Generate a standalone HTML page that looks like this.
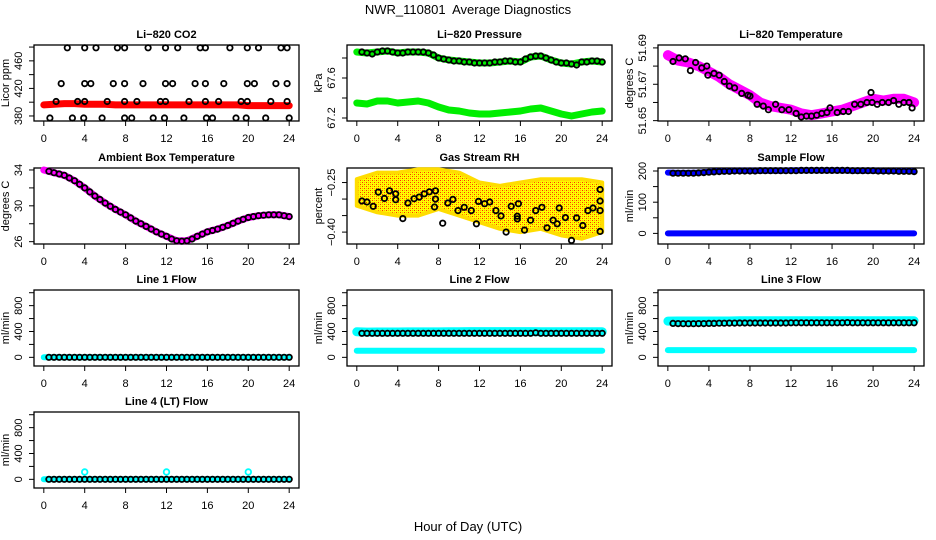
<!DOCTYPE html>
<html><head><meta charset="utf-8">
<style>
html,body{margin:0;padding:0;background:#fff;}
svg{display:block;font-family:"Liberation Sans",Arial,sans-serif;}
</style></head>
<body>
<svg id="chart" width="936" height="540" viewBox="0 0 936 540" xmlns="http://www.w3.org/2000/svg">
<defs>
<pattern id="rhpat" width="4" height="4" patternUnits="userSpaceOnUse">
<rect width="4" height="4" fill="#ffff00"/>
<rect x="0" y="0" width="1" height="1" fill="#ff3000"/>
<rect x="2" y="2" width="1" height="1" fill="#ff3000"/>
<rect x="2" y="0" width="1" height="1" fill="#ffb000"/>
<rect x="0" y="2" width="1" height="1" fill="#ffb000"/>
</pattern>
</defs>
<text x="468" y="14" font-size="13" text-anchor="middle">NWR_110801&#160; Average Diagnostics</text>
<text x="468" y="531" font-size="13" text-anchor="middle">Hour of Day (UTC)</text>
</svg>
<script>
// ---------- data ----------
const hours25 = [0,1,2,3,4,5,6,7,8,9,10,11,12,13,14,15,16,17,18,19,20,21,22,23,24];
const hours48 = [0.5,1,1.5,2,2.5,3,3.5,4,4.5,5,5.5,6,6.5,7,7.5,8,8.5,9,9.5,10,10.5,11,11.5,12,12.5,13,13.5,14,14.5,15,15.5,16,16.5,17,17.5,18,18.5,19,19.5,20,20.5,21,21.5,22,22.5,23,23.5,24];
const xTicks = [0,4,8,12,16,20,24];

// CO2
const co2Band = [396,397,398,398,397,397,397,396,396,396,396,396,396,396,396,396,396,396,396,396,395,395,395,395,395];
const co2CircHours = [2.3,4.0,5.1,7.2,7.9,10.2,11.9,13.1,15.3,15.8,18.2,19.9,21.0,23.2,23.8,
 1.7,4.0,4.6,6.8,7.9,9.7,11.9,12.6,14.8,15.8,17.6,19.9,20.6,22.7,23.8,
 1.2,3.3,4.0,6.2,7.9,9.1,11.4,11.9,14.2,15.8,17.1,19.3,19.9,22.2,23.8,
 0.6,2.8,3.9,5.7,7.9,8.6,10.7,11.8,13.7,15.9,16.5,18.8,19.8,21.7,24.0];
const co2CircVals = [479,479,479,479,479,479,479,479,479,479,479,479,479,479,479,
 427,427,427,427,427,427,427,427,427,427,427,427,427,427,427,
 401,401,401,401,401,401,401,401,401,401,401,401,401,401,401,
 377,377,377,377,377,377,377,377,377,377,377,377,377,377,377];

// Pressure
const presUpper = [67.86,67.85,67.86,67.87,67.85,67.86,67.86,67.85,67.80,67.78,67.77,67.76,67.75,67.75,67.76,67.77,67.76,67.81,67.82,67.78,67.75,67.74,67.76,67.77,67.76];
const presLower = [67.35,67.34,67.37,67.37,67.35,67.36,67.37,67.35,67.31,67.28,67.27,67.25,67.24,67.24,67.25,67.26,67.27,67.29,67.30,67.27,67.24,67.22,67.24,67.26,67.27];
const presCirc = [67.86,67.85,67.84,67.86,67.87,67.87,67.86,67.85,67.85,67.86,67.86,67.86,67.86,67.85,67.83,67.80,67.79,67.78,67.77,67.77,67.76,67.76,67.75,67.75,67.75,67.75,67.76,67.76,67.77,67.77,67.76,67.76,67.79,67.81,67.82,67.82,67.80,67.78,67.76,67.75,67.75,67.74,67.73,67.76,67.76,67.77,67.77,67.76];

// Li-820 temperature
const tempBand = [51.686,51.683,51.682,51.680,51.677,51.674,51.670,51.667,51.664,51.660,51.658,51.657,51.656,51.654,51.653,51.654,51.655,51.656,51.658,51.660,51.662,51.661,51.662,51.662,51.660];
const tempCircHours = [0.5,1.1,1.7,2.2,2.7,3.3,3.8,3.9,4.5,5.0,5.5,6.0,6.5,7.2,7.8,8.0,8.7,9.3,9.8,10.5,11.1,11.8,12.5,13.0,13.5,14.0,14.5,15.0,15.5,15.8,16.5,17.1,17.6,18.2,18.8,19.4,19.8,19.9,20.4,20.9,21.5,22.0,22.5,23.0,23.5,23.8];
const tempCircVals = [51.6825,51.6845,51.684,51.6775,51.682,51.679,51.680,51.675,51.676,51.675,51.6715,51.669,51.668,51.665,51.664,51.6635,51.659,51.658,51.656,51.659,51.656,51.656,51.654,51.652,51.6525,51.6525,51.653,51.654,51.6545,51.657,51.6545,51.655,51.655,51.659,51.659,51.660,51.6655,51.660,51.659,51.660,51.660,51.661,51.659,51.660,51.660,51.657];

// Ambient box temperature
const ambBand = [34.0,33.7,33.4,32.8,32.0,31.1,30.3,29.6,29.0,28.3,27.7,27.1,26.6,26.1,26.1,26.6,27.1,27.4,27.8,28.3,28.7,28.9,29.0,29.0,28.8];
const ambCirc = [33.85,33.7,33.55,33.4,33.1,32.8,32.4,32.0,31.55,31.1,30.7,30.3,29.95,29.6,29.3,29.0,28.65,28.3,28.0,27.7,27.4,27.1,26.85,26.6,26.3,26.1,26.05,26.1,26.3,26.6,26.85,27.1,27.25,27.4,27.6,27.8,28.05,28.3,28.5,28.7,28.8,28.9,28.95,29.0,29.0,29.0,28.9,28.8];

// Gas stream RH
const rhBandHours = [0,2,4,6,8,10,12,14,16,18,20,22,24];
const rhUpper = [-0.24,-0.22,-0.22,-0.21,-0.21,-0.22,-0.25,-0.26,-0.25,-0.24,-0.24,-0.24,-0.25];
const rhLower = [-0.32,-0.34,-0.35,-0.35,-0.33,-0.35,-0.37,-0.39,-0.40,-0.39,-0.41,-0.42,-0.40];
const rhCircHours = [0.5,1.0,1.6,2.1,2.7,3.2,3.8,3.8,4.5,5.0,5.6,6.1,6.6,7.1,7.7,7.7,7.6,8.4,8.9,9.4,9.9,10.5,11.2,11.7,11.9,12.5,13.0,13.6,14.1,14.6,15.1,15.7,15.8,15.7,16.4,17.0,17.5,18.1,18.6,19.2,19.6,19.8,20.4,21.0,21.5,22.1,22.6,23.1,23.8,23.8,23.8,23.8];
const rhCircVals = [-0.306,-0.309,-0.322,-0.279,-0.298,-0.275,-0.284,-0.302,-0.359,-0.312,-0.299,-0.294,-0.284,-0.278,-0.275,-0.300,-0.324,-0.373,-0.312,-0.301,-0.335,-0.325,-0.335,-0.375,-0.307,-0.314,-0.309,-0.335,-0.351,-0.400,-0.322,-0.352,-0.314,-0.360,-0.394,-0.364,-0.335,-0.325,-0.387,-0.364,-0.375,-0.327,-0.356,-0.425,-0.357,-0.380,-0.335,-0.327,-0.335,-0.306,-0.271,-0.398];

// Sample flow
const sfUpper = [195,194,194,195,197,199,200,201,201,201,201,201,202,202,202,202,202,202,201,201,201,200,200,200,199];
const sfLower = [0,0,0,0,0,0,0,0,0,0,0,0,0,0,0,0,0,0,0,0,0,0,0,0,0];
const sfCirc = [193,193,193,193,193,194,195,196,197,198,199,199,200,200,200,200,200,201,201,201,201,201,201,201,201,202,202,202,202,202,202,202,202,202,202,201,201,201,201,201,200,200,200,200,199,199,199,198];

// Line flows
const l1Cyan = [0,0,0,0,0,0,0,0,0,0,0,0,0,0,0,0,0,0,0,0,0,0,0,0,0];
const l1Circ = [0,0,0,0,0,0,0,0,0,0,0,0,0,0,0,0,0,0,0,0,0,0,0,0,0,0,0,0,0,0,0,0,0,0,0,0,0,0,0,0,0,0,0,0,0,0,0,0];
const l2CyanUpper = [395,390,392,392,392,394,394,394,394,396,396,398,398,398,398,398,398,398,396,396,396,396,396,396,396];
const l2CyanLower = [102,102,102,102,102,102,102,102,102,102,102,102,102,102,102,102,102,102,102,102,102,102,102,102,102];
const l2Circ = [372,372,372,372,372,372,372,372,372,372,372,372,372,372,372,372,372,372,372,372,372,372,372,372,372,372,372,372,372,372,372,372,372,372,380,372,372,372,372,372,372,372,372,372,372,372,372,372];
const l3CyanUpper = [560,562,562,562,562,562,562,565,565,565,565,565,565,565,565,565,565,565,565,565,565,565,565,565,565];
const l3CyanLower = [112,112,112,112,112,112,112,112,112,112,112,112,112,112,112,112,112,112,112,112,112,112,112,112,112];
const l3Circ = [525,522,520,520,520,522,522,525,525,528,528,530,530,532,532,532,532,532,532,532,532,532,532,535,535,535,535,535,535,535,535,535,535,535,538,535,535,535,535,535,535,535,535,535,535,535,535,535];
const l4Cyan = [0,0,0,0,0,0,0,0,0,0,0,0,0,0,0,0,0,0,0,0,0,0,0,0,0];
const l4SpikeHours = [4,12,20];
const l4SpikeVals = [113,113,113];
const l4Circ = [0,0,0,0,0,0,0,0,0,0,0,0,0,0,0,0,0,0,0,0,0,0,0,0,0,0,0,0,0,0,0,0,0,0,0,0,0,0,0,0,0,0,0,0,0,0,0,0];

// ---------- drawing ----------
const NS = 'http://www.w3.org/2000/svg';
const svg = document.getElementById('chart');
const colX = [34, 347, 658];
const colW = [265, 265, 266];
const rowY = [45, 168, 290, 412];
const PH = 76;

function mk(tag, attrs, parent) {
  const e = document.createElementNS(NS, tag);
  for (const k in attrs) e.setAttribute(k, attrs[k]);
  (parent || svg).appendChild(e);
  return e;
}

function makePanel(name, col, row, title, ylab, ymin, ymax, yTicks, yLabels) {
  const L = colX[col], T = rowY[row], W = colW[col];
  const g = mk('g', {});
  
  
  const sx = h => L + (h + 0.96) / 25.92 * W;
  const sy = v => T + PH - (v - ymin) / (ymax - ymin) * PH;
  const box = mk('rect', {x: L, y: T, width: W, height: PH, fill: 'none', stroke: '#000', 'stroke-width': 1.3}, g);
  
  
  const tt = mk('text', {x: L + W / 2, y: T - 7, 'font-size': 11, 'font-weight': 'bold', 'text-anchor': 'middle'}, g);
  tt.textContent = title;
  
  
  const xa = mk('g', {}, g);
  
  
  mk('line', {x1: sx(xTicks[0]), x2: sx(xTicks[xTicks.length - 1]), y1: T + PH, y2: T + PH, stroke: '#000'}, xa);
  xTicks.forEach(t => {
    mk('line', {x1: sx(t), x2: sx(t), y1: T + PH, y2: T + PH + 5, stroke: '#000'}, xa);
    const lt = mk('text', {x: sx(t), y: T + PH + 21, 'font-size': 11, 'text-anchor': 'middle'}, xa);
    lt.textContent = t;
    
    
  });
  const ya = mk('g', {}, g);
  
  
  mk('line', {x1: L, x2: L, y1: sy(yTicks[0]), y2: sy(yTicks[yTicks.length - 1]), stroke: '#000'}, ya);
  yTicks.forEach(t => mk('line', {x1: L - 5, x2: L, y1: sy(t), y2: sy(t), stroke: '#000'}, ya));
  yLabels.forEach(t => {
    const y = sy(parseFloat(t)), x = L - 12;
    const lt = mk('text', {x: x, y: y, 'font-size': 11, 'text-anchor': 'middle', transform: 'rotate(-90 ' + x + ' ' + y + ')'}, ya);
    lt.textContent = String(t).replace('-', '\u2212');
    
    
  });
  const yx = L - 25, yy = T + PH / 2;
  const yl = mk('text', {x: yx, y: yy, 'font-size': 11, 'text-anchor': 'middle', transform: 'rotate(-90 ' + yx + ' ' + yy + ')'}, g);
  yl.textContent = ylab;
  
  
  const clipId = 'clip-' + name;
  const cp = mk('clipPath', {id: clipId}, g);
  mk('rect', {x: L, y: T - 4, width: W, height: PH + 8}, cp);
  const marks = mk('g', {'clip-path': 'url(#' + clipId + ')'}, g);
  
  
  return {sx, sy, g: marks};
}

function band(p, hs, vs, color, width, name) {
  const pts = hs.map((h, i) => p.sx(h).toFixed(1) + ',' + p.sy(vs[i]).toFixed(1)).join(' ');
  const pl = mk('polyline', {points: pts, fill: 'none', stroke: color, 'stroke-width': width, 'stroke-linecap': 'round', 'stroke-linejoin': 'round'}, p.g);
  
  
}
function circles(p, hs, vs, color, name, r, sw) {
  hs.forEach((h, i) => {
    const c = mk('circle', {cx: p.sx(h).toFixed(1), cy: p.sy(vs[i]).toFixed(1), r: r || 2.7, fill: 'none', stroke: color, 'stroke-width': sw || 1.8}, p.g);
    
    
  });
}

let p = makePanel('li820-co2', 0, 0, 'Li\u2212820 CO2', 'Licor ppm', 372.7, 483, [380,400,420,440,460,480], ['380','420','460']);
band(p, hours25, co2Band, '#ff0000', 7, 'co2-red-series');
circles(p, co2CircHours, co2CircVals, '#000', 'co2-average-point');

p = makePanel('li820-pressure', 1, 0, 'Li\u2212820 Pressure', 'kPa', 67.17, 67.93, [67.2,67.4,67.6,67.8], ['67.2','67.6']);
band(p, hours25, presUpper, '#00ee00', 7, 'pressure-upper-series');
band(p, hours25, presLower, '#00ee00', 7, 'pressure-lower-series');
circles(p, hours48, presCirc, '#000', 'pressure-average-point');

p = makePanel('li820-temperature', 2, 0, 'Li\u2212820 Temperature', 'degrees C', 51.6498, 51.6916, [51.65,51.66,51.67,51.68,51.69], ['51.65','51.67','51.69']);
band(p, hours25, tempBand, '#ff00ff', 10, 'temperature-magenta-series');
circles(p, tempCircHours, tempCircVals, '#000', 'temperature-average-point');

p = makePanel('ambient-box-temperature', 0, 1, 'Ambient Box Temperature', 'degrees C', 25.74, 34.22, [26,28,30,32,34], ['26','30','34']);
band(p, hours25, ambBand, '#ff00ff', 7, 'ambient-magenta-series');
circles(p, hours48, ambCirc, '#000', 'ambient-average-point');

p = makePanel('gas-stream-rh', 1, 1, 'Gas Stream RH', 'percent', -0.436, -0.206, [-0.40,-0.35,-0.30,-0.25], ['-0.40','-0.25']);
{
  const up = rhBandHours.map((h, i) => p.sx(h).toFixed(1) + ',' + p.sy(rhUpper[i]).toFixed(1));
  const lo = rhBandHours.map((h, i) => p.sx(h).toFixed(1) + ',' + p.sy(rhLower[i]).toFixed(1)).reverse();
  const poly = mk('polygon', {points: up.concat(lo).join(' '), fill: 'url(#rhpat)', stroke: '#ffdd00', 'stroke-width': 4, 'stroke-linejoin': 'round'}, p.g);
  
  
}
circles(p, rhCircHours, rhCircVals, '#000', 'rh-average-point');

p = makePanel('sample-flow', 2, 1, 'Sample Flow', 'ml/min', -34, 209.6, [0,50,100,150,200], ['0','100','200']);
band(p, hours25, sfUpper, '#0000ff', 6, 'sample-flow-upper-series');
band(p, hours25, sfLower, '#0000ff', 6, 'sample-flow-lower-series');
circles(p, hours48, sfCirc, '#000', 'sample-flow-average-point');

const flowT = [0,200,400,600,800,1000], flowL = ['0','400','800'];
p = makePanel('line1-flow', 0, 2, 'Line 1 Flow', 'ml/min', -134, 1042, flowT, flowL);
band(p, hours25, l1Cyan, '#00ffff', 6, 'line1-cyan-series');
circles(p, hours48, l1Circ, '#000', 'line1-average-point');
p = makePanel('line2-flow', 1, 2, 'Line 2 Flow', 'ml/min', -134, 1042, flowT, flowL);
band(p, hours25, l2CyanUpper, '#00ffff', 9, 'line2-cyan-upper-series');
band(p, hours25, l2CyanLower, '#00ffff', 6, 'line2-cyan-lower-series');
circles(p, hours48, l2Circ, '#000', 'line2-average-point');
p = makePanel('line3-flow', 2, 2, 'Line 3 Flow', 'ml/min', -134, 1042, flowT, flowL);
band(p, hours25, l3CyanUpper, '#00ffff', 9, 'line3-cyan-upper-series');
band(p, hours25, l3CyanLower, '#00ffff', 6, 'line3-cyan-lower-series');
circles(p, hours48, l3Circ, '#000', 'line3-average-point');
p = makePanel('line4-lt-flow', 0, 3, 'Line 4 (LT) Flow', 'ml/min', -134, 1042, flowT, flowL);
band(p, hours25, l4Cyan, '#00ffff', 6, 'line4-cyan-series');
circles(p, l4SpikeHours, l4SpikeVals, '#00ffff', 'line4-spike-point', 2.8, 1.8);
circles(p, hours48, l4Circ, '#000', 'line4-average-point');
</script>
</body></html>
